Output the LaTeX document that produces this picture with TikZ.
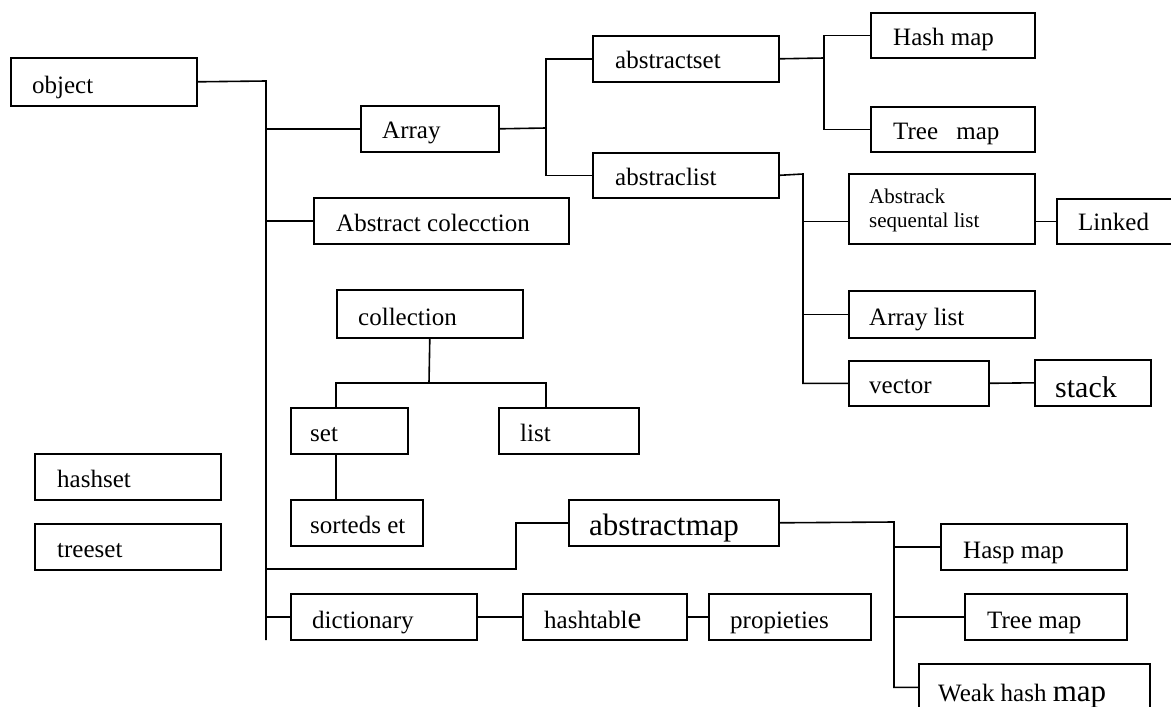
\documentclass[tikz,border=0pt]{standalone}
\usepackage{fontspec}
\setmainfont{Liberation Serif}
\usetikzlibrary{calc}
\tikzset{
  box/.style={draw, line width=1.6pt, rectangle, inner sep=0pt, anchor=north west},
  lbl/.style={inner sep=0pt, anchor=base west, font=\fontsize{25}{30}\selectfont},
  conn/.style={line width=1.6pt},
}
\newcommand\mybox[5]{\node[box, minimum width={(#4-#2)*1pt}, minimum height={(#5-#3)*1pt}] (#1) at (#2,#3) {};}
\newcommand\mytext[4]{\node[lbl] (#1) at (#2,#3) {#4};}
\begin{document}
\begin{tikzpicture}[x=1pt,y=-1pt]
\useasboundingbox (0,0) rectangle (1171,707);
% boxes
\mybox{obj}{10}{57}{196}{105}
\mybox{arr}{360}{105}{498}{151}
\mybox{acol}{313}{197}{568}{243}
\mybox{aset}{592}{35}{778}{81}
\mybox{alist}{592}{152}{778}{197}
\mybox{hmap}{870}{12}{1034}{57}
\mybox{tmap}{870}{106}{1034}{151}
\mybox{absq}{848}{173}{1034}{243}
\mybox{link}{1056}{198}{1174}{243}
\mybox{alst}{848}{290}{1034}{337}
\mybox{vec}{848}{360}{988}{405}
\mybox{stk}{1034}{359}{1150}{405}
\mybox{coll}{336}{289}{522}{337}
\mybox{set}{290}{407}{407}{453}
\mybox{list}{498}{407}{638}{453}
\mybox{sset}{290}{499}{422}{545}
\mybox{hset}{34}{453}{220}{499}
\mybox{tset}{34}{523}{220}{569}
\mybox{amap}{568}{499}{778}{545}
\mybox{hasp}{940}{523}{1126}{569}
\mybox{tmap2}{964}{593}{1126}{639}
\mybox{whm}{918}{663}{1149}{710}
\mybox{dict}{290}{593}{476}{639}
\mybox{htab}{522}{593}{686}{639}
\mybox{prop}{708}{593}{870}{639}
% texts
\mytext{tobj}{32}{93}{object}
\mytext{tarr}{382}{138}{Array}
\mytext{tacol}{336}{231}{Abstract colecction}
\mytext{taset}{615}{68}{abstractset}
\mytext{talist}{615}{185}{abstraclist}
\mytext{thmap}{893}{45}{Hash map}
\mytext{ttmap}{893}{139}{Tree\hspace{12pt} map}
\node[lbl, font=\fontsize{21}{24}\selectfont] (tabsq1) at (869,203) {Abstrack};
\node[lbl, font=\fontsize{21}{24}\selectfont] (tabsq2) at (869,227) {sequental list};
\mytext{tlink}{1078}{230}{Linked}
\mytext{talst}{869}{325}{Array list}
\mytext{tvec}{869}{393}{vector}
\node[lbl, font=\fontsize{30}{36}\selectfont] (tstk) at (1055,397) {stack};
\mytext{tcoll}{358}{325}{collection}
\mytext{tset}{310}{441}{set}
\mytext{tlist}{520}{441}{list}
\mytext{tsset}{310}{533}{sorteds et}
\mytext{thset}{57}{487}{hashset}
\mytext{ttset}{57}{557}{treeset}
\node[lbl, font=\fontsize{31}{36}\selectfont] (tamap) at (589,535) {abstractmap};
\mytext{thasp}{963}{558}{Hasp map}
\mytext{ttmap2}{987}{628}{Tree map}
\mytext{twhm}{938}{701}{Weak hash {\fontsize{31}{36}\selectfont map}}
\mytext{tdict}{312}{628}{dictionary}
\mytext{thtab}{544}{628}{hashtabl{\fontsize{31}{36}\selectfont e}}
\mytext{tprop}{730}{628}{propieties}
% junction coordinates
\coordinate (trTop) at (266,81);
\coordinate (trBot) at (266,640);
\coordinate (arrj) at (546,128);
\coordinate (asj) at (824,58);
\coordinate (alj) at (803,174);
\coordinate (collj) at (429,383);
\coordinate (setc) at (336,383);
\coordinate (listc) at (546,383);
\coordinate (amj) at (894,522);
\coordinate (amk) at (516,569);
% connectors
\draw[conn] (obj.east) -- (trTop) -- (trBot);
\draw[conn] (arr.west) -- (arr.west -| trTop);
\draw[conn] (acol.west) -- (acol.west -| trTop);
\draw[conn] (dict.west) -- (dict.west -| trTop);
\draw[conn] (amap.west) -| (amk) -- (amk -| trTop);
\draw[conn] (arr.east) -- (arrj);
\draw[conn] (aset.west) -| (arrj) |- (alist.west);
\draw[conn] (aset.east) -- (asj);
\draw[conn] (hmap.west) -| (asj) |- (tmap.west);
\draw[conn] (alist.east) -- (alj) |- (vec.west);
\draw[conn] (alj |- link.west) -- (link.west -| absq.west);
\draw[conn] (absq.east |- link.west) -- (link.west);
\draw[conn] (alj |- alst.west) -- (alst.west);
\draw[conn] (vec.east) -- (stk.west);
\draw[conn] (coll.south) -- (collj);
\draw[conn] (set.north -| setc) |- (listc) -- (list.north -| listc);
\draw[conn] (set.south -| setc) -- (sset.north -| setc);
\draw[conn] (amap.east) -- (amj) |- (whm.west);
\draw[conn] (amj |- hasp.west) -- (hasp.west);
\draw[conn] (amj |- tmap2.west) -- (tmap2.west);
\draw[conn] (dict.east) -- (htab.west);
\draw[conn] (htab.east) -- (prop.west);
\end{tikzpicture}
\end{document}
